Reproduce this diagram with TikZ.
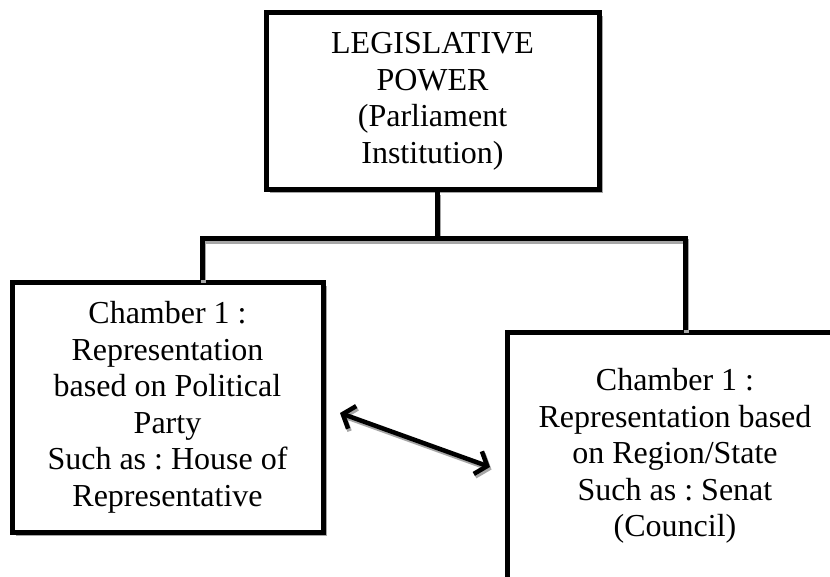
\documentclass[tikz,border=0pt]{standalone}
\usepackage{fontspec}
\setmainfont{Liberation Serif}
\frenchspacing
\usetikzlibrary{arrows.meta,shadows}
\tikzset{
  box/.style={draw=black, line width=5pt, fill=white, align=center,
    font=\fontsize{32}{36.5}\selectfont\frenchspacing, inner sep=0pt,
    drop shadow={shadow xshift=3.5pt, shadow yshift=-3.5pt, fill=black!35, opacity=1}},
  link/.style={draw=black, line width=5pt},
  linkshadow/.style={draw=black!35, line width=5pt},
  dbl/.style={line width=4.5pt,
    {Straight Barb[length=10pt,width=24pt]}-{Straight Barb[length=10pt,width=24pt]}},
}
\begin{document}
\begin{tikzpicture}[x=1pt,y=-1pt]
\useasboundingbox (0,0) rectangle (830,577);
\clip (0,0) rectangle (830,577);
\fill[white] (0,0) rectangle (830,577);

% boxes
\node[box, minimum width=333pt, minimum height=177pt] (top) at (432.5,101.5)
  {LEGISLATIVE\\POWER\\(Parliament\\Institution)};
\node[box, minimum width=311pt, minimum height=249pt] (left) at (167.5,407.5)
  {Chamber 1 :\\Representation\\based on Political\\Party\\Such as : House of\\Representative};
\node[box, minimum width=336pt, minimum height=246pt] (right) at (675,456)
  {Chamber 1 :\\Representation based\\on Region/State\\Such as : Senat\\(Council)};

% junction coordinates
\coordinate (j) at (437,239);
\coordinate (jl) at (202,239);
\coordinate (jr) at (685,239);
\coordinate (a1) at (340,413);
\coordinate (a2) at (490,467);

% shadows of connectors
\begin{scope}[transform canvas={shift={(1.5pt,-2.5pt)}}]
  \draw[linkshadow] (top.south -| j) -- (j);
  \draw[linkshadow] (jl |- left.north) -- (jl) -- (jr) -- (jr |- right.north);
  \draw[dbl, draw=black!35] (a1) -- (a2);
\end{scope}

% connectors
\draw[link] (top.south -| j) -- (j);
\draw[link] (jl |- left.north) -- (jl) -- (jr) -- (jr |- right.north);
\draw[dbl] (a1) -- (a2);
\end{tikzpicture}
\end{document}
